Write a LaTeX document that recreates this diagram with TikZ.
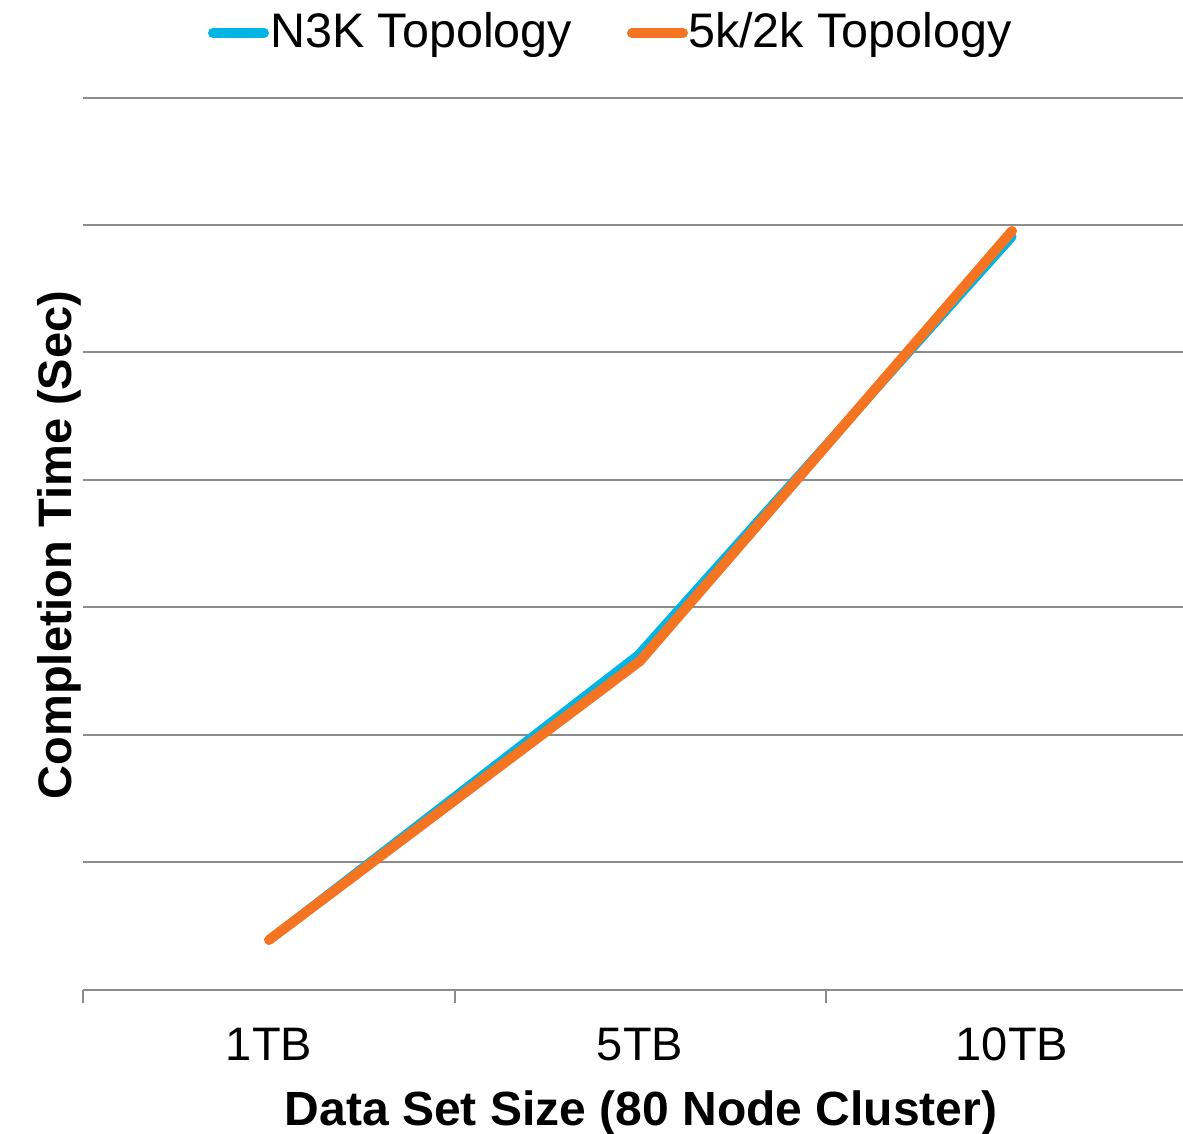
\documentclass[tikz,border=0pt]{standalone}
\usepackage{fontspec}
\setmainfont{Liberation Sans}
\definecolor{seriesblue}{HTML}{00B5E6}
\definecolor{seriesorange}{HTML}{F47421}
\definecolor{gridgray}{HTML}{8C8C8C}
\begin{document}
\begin{tikzpicture}[x=1pt,y=-1pt,
  grid/.style={draw=gridgray,line width=2pt},
  series/.style={line width=#1,line cap=round,line join=round},
  lbl/.style={inner sep=0pt,font=\fontsize{47}{56}\selectfont},
  legendtext/.style={inner sep=0pt,font=\fontsize{48.5}{58}\selectfont},
  title/.style={inner sep=0pt,font=\fontsize{48}{57}\selectfont\bfseries}]
  \useasboundingbox (0,0) rectangle (1183,1134);
  % horizontal grid lines
  \foreach \y in {98,225,352,480,607,735,862}
    \draw[grid] (83,\y) -- (1183,\y);
  % category axis with ticks
  \coordinate (axL) at (83,990);
  \coordinate (axR) at (1183,990);
  \draw[grid] (axL) -- (axR);
  \foreach \x in {83,455,826}
    \draw[grid] (\x,990) -- (\x,1003);
  % tick labels
  \node[lbl,anchor=base] (t1) at (269,1060) {1TB};
  \node[lbl,anchor=base] (t5) at (640,1060) {5TB};
  \node[lbl,anchor=base] (t10) at (1012,1060) {10TB};
  % axis titles
  \node[title,anchor=base] (xt) at (641,1125) {Data Set Size (80 Node Cluster)};
  \node[title,anchor=base,rotate=90,font=\fontsize{47}{56}\selectfont\bfseries] (yt) at (71,545) {Completion Time (Sec)};
  % data points
  \coordinate (b1) at (269,940);
  \coordinate (b5) at (638,655);
  \coordinate (b10) at (1012,237);
  \coordinate (o1) at (269,940);
  \coordinate (o5) at (640,661);
  \coordinate (o10) at (1012,231);
  \draw[series=9pt,seriesblue] (b1) -- (b5) -- (b10);
  \draw[series=10pt,seriesorange] (o1) -- (o5) -- (o10);
  % legend
  \coordinate (lb1) at (213,33);
  \coordinate (lb2) at (264,33);
  \coordinate (lo1) at (632,33);
  \coordinate (lo2) at (683,33);
  \draw[series=10pt,seriesblue] (lb1) -- (lb2);
  \node[legendtext,anchor=base west] (lbt) at (270,48) {N3K Topology};
  \draw[series=10pt,seriesorange] (lo1) -- (lo2);
  \node[legendtext,anchor=base west] (lot) at (688,48) {5k/2k Topology};
\end{tikzpicture}
\end{document}
